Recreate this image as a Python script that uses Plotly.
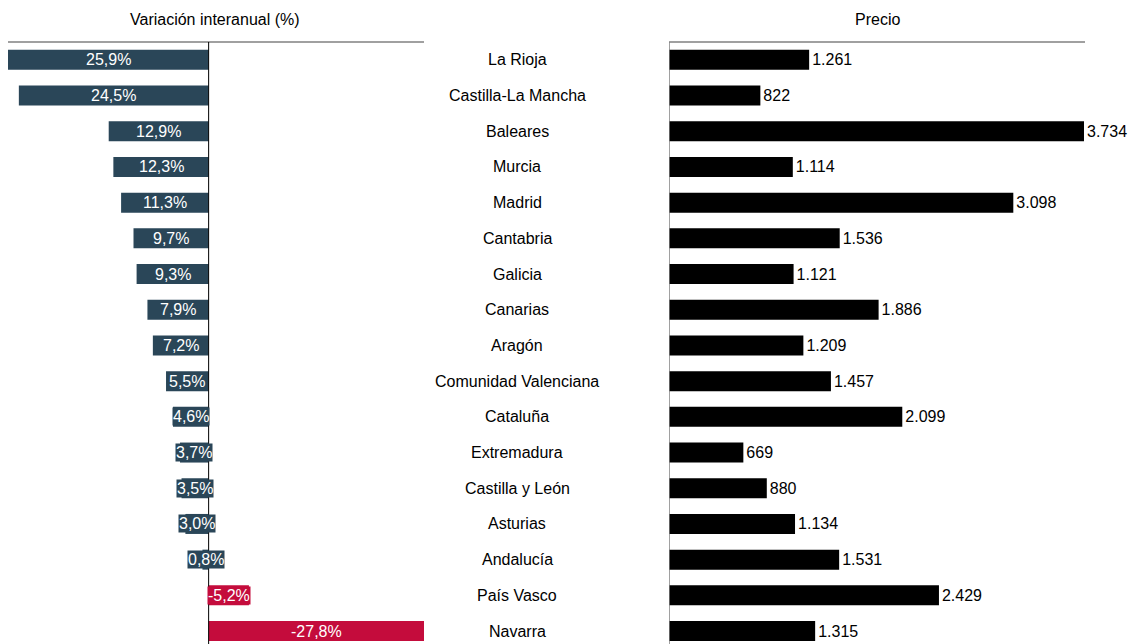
import plotly.graph_objects as go

regiones = ["La Rioja", "Castilla-La Mancha", "Baleares", "Murcia", "Madrid", "Cantabria",
            "Galicia", "Canarias", "Aragón", "Comunidad Valenciana", "Cataluña", "Extremadura",
            "Castilla y León", "Asturias", "Andalucía", "País Vasco", "Navarra"]
variacion = [25.9, 24.5, 12.9, 12.3, 11.3, 9.7, 9.3, 7.9, 7.2, 5.5, 4.6, 3.7, 3.5, 3.0, 0.8, -5.2, -27.8]
precio = [1261, 822, 3734, 1114, 3098, 1536, 1121, 1886, 1209, 1457, 2099, 669, 880, 1134, 1531, 2429, 1315]

W, H = 1137, 644
FONT = "Liberation Sans"
FS = 16
POS = "#2A4658"
NEG = "#C40C3C"

idx = list(range(len(regiones)))
colors = [POS if v >= 0 else NEG for v in variacion]

def fmt_pct(v):
    return f"{v:.1f}".replace(".", ",") + "%"

def fmt_num(v):
    return f"{v:,}".replace(",", ".")

fig = go.Figure()
fig.add_trace(go.Bar(x=variacion, y=idx, orientation="h", marker=dict(color=colors, line=dict(width=0)),
                     width=0.56, xaxis="x", yaxis="y", hoverinfo="skip"))
fig.add_trace(go.Bar(x=precio, y=idx, orientation="h", marker=dict(color="#000000", line=dict(width=0)),
                     width=0.56, xaxis="x2", yaxis="y", text=[fmt_num(p) for p in precio],
                     textposition="outside", cliponaxis=False,
                     textfont=dict(family=FONT, size=FS, color="#000000"), hoverinfo="skip"))

top_px = 42
ann = []
for i, v in enumerate(variacion):
    ann.append(dict(x=v / 2, y=i, xref="x", yref="y", text=fmt_pct(v), showarrow=False,
                    font=dict(family=FONT, size=FS, color="#FFFFFF"),
                    bgcolor=colors[i], borderpad=0))
for i, r in enumerate(regiones):
    ann.append(dict(x=517 / W, y=i, xref="paper", yref="y", text=r, showarrow=False,
                    font=dict(family=FONT, size=FS, color="#000000"), xanchor="center"))
title_y = 1 + (top_px - 19) / (H - top_px)
ann.append(dict(x=215 / W, y=title_y, xref="paper", yref="paper", text="Variación interanual (%)",
                showarrow=False, xanchor="center", yanchor="middle",
                font=dict(family=FONT, size=FS, color="#000000")))
ann.append(dict(x=877 / W, y=title_y, xref="paper", yref="paper", text="Precio",
                showarrow=False, xanchor="center", yanchor="middle",
                font=dict(family=FONT, size=FS, color="#000000")))

shapes = [
    dict(type="line", xref="paper", yref="paper", x0=8 / W, x1=424 / W, y0=1, y1=1,
         line=dict(color="#808080", width=1.5)),
    dict(type="line", xref="paper", yref="paper", x0=669 / W, x1=1085 / W, y0=1, y1=1,
         line=dict(color="#808080", width=1.5)),
    dict(type="line", xref="x", yref="paper", x0=0, x1=0, y0=0, y1=1,
         line=dict(color="#000000", width=1)),
    dict(type="line", xref="x2", yref="paper", x0=0, x1=0, y0=0, y1=1,
         line=dict(color="#808080", width=1.5)),
]

span = (H - top_px) / 35.7
fig.update_layout(
    width=W, height=H,
    margin=dict(l=0, r=0, t=top_px, b=0),
    paper_bgcolor="white", plot_bgcolor="white",
    showlegend=False, barmode="overlay",
    xaxis=dict(domain=[8 / W, 424 / W], range=[25.9, -27.8], showgrid=False, zeroline=False,
               showticklabels=False, showline=False),
    xaxis2=dict(domain=[669 / W, 1085 / W], range=[0, 3743], showgrid=False, zeroline=False,
                showticklabels=False, showline=False, anchor="y"),
    yaxis=dict(range=[-0.5 + span, -0.5], showgrid=False, zeroline=False, showticklabels=False,
               showline=False),
    annotations=ann, shapes=shapes,
    font=dict(family=FONT, size=FS, color="#000000"),
)

fig.write_html("out.html", config={"displayModeBar": False},
               post_script="document.body.style.margin='0';document.body.style.overflow='hidden';")
